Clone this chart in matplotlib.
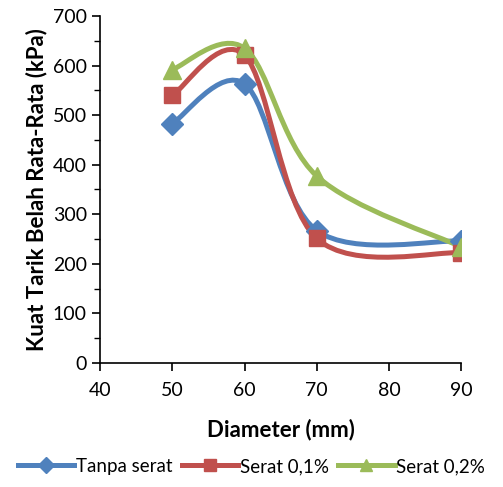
import matplotlib.pyplot as plt
import numpy as np
from matplotlib.path import Path
from matplotlib.patches import PathPatch
from matplotlib.lines import Line2D

plt.rcParams['font.family'] = ['Lato', 'DejaVu Sans']

diameter = [50, 60, 70, 90]
tanpa_serat = [483, 563, 267, 246]
serat_01 = [540, 621, 251, 222]
serat_02 = [592, 635, 377, 234]

series = [
    ('Tanpa serat', tanpa_serat, '#4F81BD', 'D', 11),
    ('Serat 0,1%', serat_01, '#C0504D', 's', 12),
    ('Serat 0,2%', serat_02, '#9BBB59', '^', 13),
]


def smooth_path(x, y):
    # excel-like smoothed line: cubic bezier through every point
    pts = np.column_stack([x, y]).astype(float)
    n = len(pts)
    verts = [pts[0]]
    codes = [Path.MOVETO]
    for i in range(n - 1):
        p0 = pts[i - 1] if i > 0 else pts[i]
        p1 = pts[i]
        p2 = pts[i + 1]
        p3 = pts[i + 2] if i + 2 < n else pts[i + 1]
        c1 = p1 + (p2 - p0) / 6.0
        c2 = p2 - (p3 - p1) / 6.0
        verts += [c1, c2, p2]
        codes += [Path.CURVE4] * 3
    return Path(verts, codes)


fig = plt.figure(figsize=(5.03, 4.87), dpi=100)
ax = fig.add_axes([0.199, 0.255, 0.718, 0.712])

handles = []
for name, vals, col, mk, ms in series:
    patch = PathPatch(smooth_path(diameter, vals), facecolor='none', edgecolor=col,
                      lw=3.6, capstyle='round', joinstyle='round', zorder=2)
    ax.add_patch(patch)
    ax.plot(diameter, vals, linestyle='none', marker=mk, ms=ms, color=col, zorder=3)
    handles.append(Line2D([], [], color=col, lw=3.6, marker=mk, ms=ms * 0.7, label=name))

ax.set_xlim(40, 90)
ax.set_ylim(0, 700)
ax.set_xticks(np.arange(40, 91, 10))
ax.set_yticks(np.arange(0, 701, 100))
ax.set_yticks(np.arange(0, 701, 50), minor=True)
ax.tick_params(axis='both', which='major', direction='out', length=6, width=1.2, labelsize=14)
ax.tick_params(axis='y', which='minor', direction='out', length=4, width=1)
ax.tick_params(axis='x', pad=8)
for s in ['top', 'right']:
    ax.spines[s].set_visible(False)
for s in ['left', 'bottom']:
    ax.spines[s].set_linewidth(1.2)

ax.set_xlabel('Diameter (mm)', fontsize=16, fontweight='bold', labelpad=14)
ax.set_ylabel('Kuat Tarik Belah Rata-Rata (kPa)', fontsize=16, fontweight='bold', labelpad=4)

fig.legend(handles=handles, loc='lower center', ncol=3, frameon=False, fontsize=13.5,
           handlelength=3.0, columnspacing=0.5, handletextpad=0.1,
           bbox_to_anchor=(0.5, -0.01))

fig.savefig('out.png', dpi=100)
